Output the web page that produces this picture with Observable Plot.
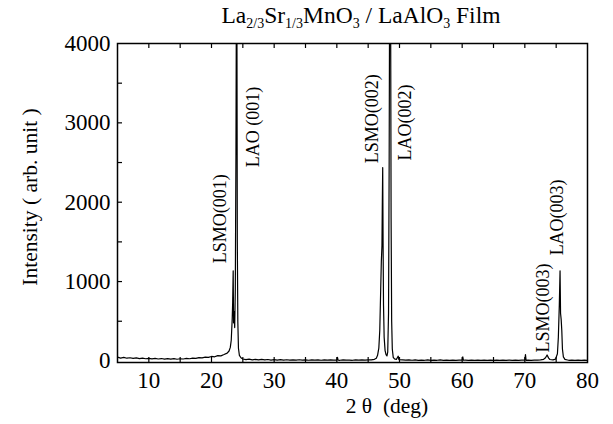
<!DOCTYPE html>
<html>
<head>
<meta charset="utf-8">
<script src="https://cdn.jsdelivr.net/npm/d3@7"></script>
<script src="https://cdn.jsdelivr.net/npm/@observablehq/plot@0.6"></script>
<style>
  body { margin: 0; background: #fff; }
</style>
</head>
<body>
<div id="chart"></div>
<script>
// X-ray diffraction scan of an LSMO film on LaAlO3: 2θ (deg) vs intensity (arb. unit)
const twoTheta = [
  5.0, 5.5, 6.0, 6.5, 7.0, 7.5, 8.0, 8.5, 9.0, 9.5, 10.0, 10.5, 11.0, 11.5, 12.0, 12.5,
  13.0, 13.5, 14.0, 14.5, 15.0, 15.5, 16.0, 16.5, 17.0, 17.5, 18.0, 18.5, 19.0, 19.5,
  20.0, 20.5, 21.0, 21.5, 22.0, 22.5,
  22.8, 23.0, 23.15, 23.3, 23.38, 23.46, 23.52, 23.6, 23.7, 23.8, 23.9, 23.97, 24.05,
  24.12, 24.2, 24.3, 24.45, 24.7,
  25.0, 25.5, 26.0, 26.5, 27.0, 27.5, 28.0, 28.5, 29.0, 29.5, 30.0, 30.5, 31.0, 31.5,
  32.0, 32.5, 33.0, 33.5, 34.0, 34.5, 35.0, 35.5, 36.0, 36.5, 37.0, 37.5, 38.0, 38.5,
  39.0, 39.5, 40.0, 40.1, 40.2, 40.5, 41.0, 41.5, 42.0, 42.5, 43.0, 43.5, 44.0, 44.5,
  45.0, 45.5, 46.0,
  46.3, 46.5, 46.7, 46.85, 47.0, 47.1, 47.2, 47.26, 47.32, 47.38, 47.45, 47.55, 47.7,
  47.85, 48.0, 48.12, 48.25, 48.35, 48.42, 48.58, 48.66, 48.75, 48.85, 49.0, 49.2,
  49.5, 49.8, 49.9,
  50.5, 51.0, 51.5, 52.0, 52.5, 53.0, 53.5, 54.0, 54.5, 55.0, 55.5, 56.0, 56.5, 57.0,
  57.5, 58.0, 58.5, 59.0, 59.5, 60.0, 60.1, 60.2, 60.5, 61.0, 61.5, 62.0, 62.5, 63.0,
  63.5, 64.0, 64.5, 65.0, 65.5, 66.0, 66.5, 67.0, 67.5, 68.0, 68.5, 69.0, 69.5, 70.0,
  70.1, 70.2, 70.5, 71.0, 71.5, 72.0, 72.5, 73.0, 73.3, 73.55, 73.8, 74.0, 74.5, 74.9,
  75.2, 75.35, 75.5, 75.62, 75.7, 75.8, 75.9, 76.0, 76.15, 76.4, 76.8, 77.0, 77.5,
  78.0, 78.5, 79.0, 79.5, 80.0
];
const intensity = [
  48, 36, 44, 34, 40, 31, 38, 29, 35, 27, 33, 26, 31, 24, 30, 23,
  29, 22, 28, 21, 27, 24, 31, 27, 36, 32, 41, 38, 47, 45,
  56, 52, 66, 64, 80, 98,
  125, 170, 260, 520, 740, 1135, 480, 620, 420, 900, 2600, 4600, 4600,
  1500, 500, 160, 70, 40,
  24, 17, 22, 14, 20, 13, 19, 12, 18, 11, 17, 10, 16, 11,
  15, 9, 14, 10, 15, 9, 13, 8, 14, 9, 12, 8, 13, 9,
  12, 10, 11, 45, 10, 8, 12, 9, 11, 8, 13, 10, 12, 9,
  14, 12, 20,
  35, 70, 160, 380, 900, 1250, 1450, 2000, 2437, 1500, 700, 300, 130,
  80, 63, 110, 600, 2500, 4600, 4600, 1800, 500, 150, 45, 25,
  18, 60, 16,
  12, 9, 13, 8, 12, 7, 11, 8, 12, 7, 11, 8, 12, 7,
  10, 8, 11, 7, 10, 9, 50, 8, 11, 7, 10, 8, 11, 7,
  10, 8, 11, 7, 10, 8, 11, 7, 10, 8, 11, 7, 10, 9,
  80, 8, 10, 7, 11, 9, 14, 20, 40, 75, 35, 18, 14, 22,
  90, 300, 700, 1135, 600, 520, 380, 150, 50, 20, 12, 8, 11,
  7, 10, 8, 11, 7
];

// Axis ticks
const xTickLabels = [10, 20, 30, 40, 50, 60, 70, 80];
const xTickMarks = [10, 15, 20, 25, 30, 35, 40, 45, 50, 55, 60, 65, 70, 75];
const yTickLabels = [0, 1000, 2000, 3000, 4000];
const yTickMarks = [500, 1000, 1500, 2000, 2500, 3000, 3500];

// Reflection labels (bottom end of each vertical label)
const peakNames = ["LSMO(001)", "LAO (001)", "LSMO(002)", "LAO(002)", "LSMO(003)", "LAO(003)"];
const peakLabelX = [21.45, 26.7, 45.7, 50.95, 72.95, 75.2];
const peakLabelY = [1230, 2440, 2490, 2525, 105, 1330];

const W = 613, H = 424;
const margin = {top: 43, right: 26, bottom: 62, left: 117};
const innerW = W - margin.left - margin.right;
const innerH = H - margin.top - margin.bottom;
const SERIF = '"Liberation Serif", "Times New Roman", serif';

const scan = twoTheta.map((t, i) => ({t, v: intensity[i]}));
const peaks = peakNames.map((name, i) => ({name, t: peakLabelX[i], v: peakLabelY[i]}));

const chart = Plot.plot({
  width: W,
  height: H,
  marginTop: margin.top,
  marginRight: margin.right,
  marginBottom: margin.bottom,
  marginLeft: margin.left,
  style: {fontFamily: SERIF, fontSize: "23px", background: "white", color: "black"},
  x: {domain: [5, 80]},
  y: {domain: [-20, 4000]},
  marks: [
    Plot.line(scan, {x: "t", y: "v", stroke: "black", strokeWidth: 1.2, clip: true}),
    // inward ticks on bottom, top and left edges
    Plot.tickX(xTickMarks, {x: d => d, insetTop: innerH - 5, stroke: "black", strokeWidth: 1.2}),
    Plot.tickX(xTickMarks, {x: d => d, insetBottom: innerH - 5, stroke: "black", strokeWidth: 1.2}),
    Plot.tickY(yTickMarks, {y: d => d, insetRight: innerW - 5, stroke: "black", strokeWidth: 1.2}),
    Plot.frame({stroke: "black", strokeWidth: 1.5}),
    Plot.axisX({ticks: xTickLabels, tickFormat: d => String(d), tickSize: 0, tickPadding: 9, label: null}),
    Plot.axisY({ticks: yTickLabels, tickFormat: d => String(d), tickSize: 0, tickPadding: 7, label: null}),
    Plot.text(peaks, {x: "t", y: "v", text: "name", rotate: -90, textAnchor: "start", fontSize: 18, fill: "black"})
  ]
});

const svg = d3.select(chart);

// Title with chemical subscripts
const title = svg.append("text")
  .attr("x", 361).attr("y", 23)
  .attr("text-anchor", "middle")
  .attr("fill", "black")
  .style("font-size", "23.5px");
const parts = [["La", false], ["2/3", true], ["Sr", false], ["1/3", true], ["MnO", false], ["3", true],
               [" / LaAlO", false], ["3", true], [" Film", false]];
let lowered = false;
for (const [txt, sub] of parts) {
  const ts = title.append("tspan").text(txt.replace(/ /g, "\u00A0"));
  if (sub && !lowered) { ts.attr("dy", 5).style("font-size", "14px"); lowered = true; }
  else if (sub) { ts.style("font-size", "14px"); }
  else if (lowered) { ts.attr("dy", -5); lowered = false; }
}

// Axis titles
svg.append("text")
  .attr("transform", "translate(29,197) rotate(-90)")
  .attr("text-anchor", "middle")
  .attr("dy", "0.35em")
  .attr("fill", "black")
  .style("font-size", "21.5px")
  .text("Intensity ( arb. unit )");

svg.append("text")
  .attr("x", 387).attr("y", 413)
  .attr("text-anchor", "middle")
  .attr("fill", "black")
  .style("font-size", "21.5px")
  .text("2 \u03B8\u00A0 (deg)");

// Use the serif face on every label
svg.selectAll("text, tspan").style("font-family", SERIF);

document.getElementById("chart").appendChild(chart);
</script>
</body>
</html>
